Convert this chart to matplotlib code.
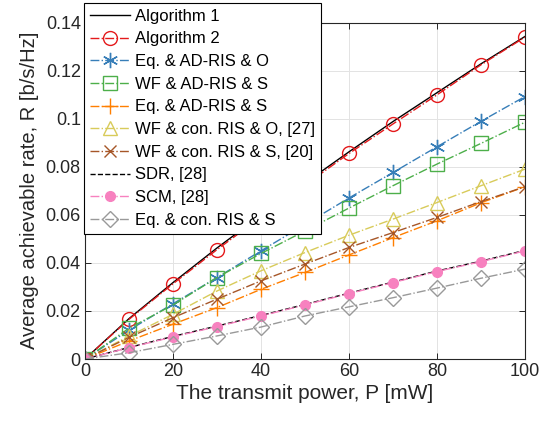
import matplotlib
matplotlib.use("Agg")
import matplotlib.pyplot as plt
import matplotlib.ticker as mticker

plt.rcParams['font.family'] = ['Liberation Sans', 'DejaVu Sans']

# transmit power [mW]
power = [0, 10, 20, 30, 40, 50, 60, 70, 80, 90, 100]

# average achievable rate [b/s/Hz]
alg1 = [0, 0.0168, 0.0318, 0.0462, 0.0598, 0.0732, 0.0862, 0.0988, 0.1108, 0.1228, 0.1342]
alg2 = [0, 0.0165, 0.0313, 0.0455, 0.0591, 0.0724, 0.0855, 0.0978, 0.1099, 0.1224, 0.1339]
eq_ad_o = [0, 0.0120, 0.0230, 0.0339, 0.0450, 0.0560, 0.0670, 0.0776, 0.0883, 0.0989, 0.1092]
wf_ad_s = [0, 0.0128, 0.0225, 0.0339, 0.0439, 0.0533, 0.0628, 0.0721, 0.0811, 0.0897, 0.0985]
eq_ad_s = [0, 0.0075, 0.0145, 0.0214, 0.0290, 0.0360, 0.0433, 0.0505, 0.0575, 0.0650, 0.0717]
wf_con_o = [0, 0.0095, 0.0186, 0.0283, 0.0367, 0.0443, 0.0515, 0.0582, 0.0651, 0.0721, 0.0790]
wf_con_s = [0, 0.0090, 0.0172, 0.0249, 0.0325, 0.0395, 0.0464, 0.0526, 0.0589, 0.0655, 0.0717]
sdr = [0, 0.0048, 0.0094, 0.0137, 0.0181, 0.0227, 0.0274, 0.0320, 0.0366, 0.0407, 0.0452]
scm = [0, 0.0047, 0.0092, 0.0135, 0.0179, 0.0225, 0.0272, 0.0318, 0.0364, 0.0405, 0.0450]
eq_con_s = [0, 0.0026, 0.0061, 0.0096, 0.0133, 0.0179, 0.0217, 0.0255, 0.0295, 0.0336, 0.0374]

labels = ["Algorithm 1", "Algorithm 2", "Eq. & AD-RIS & O", "WF & AD-RIS & S",
          "Eq. & AD-RIS & S", "WF & con. RIS & O, [27]", "WF & con. RIS & S, [20]",
          "SDR, [28]", "SCM, [28]", "Eq. & con. RIS & S"]

txt = '#262626'
fig = plt.figure(figsize=(5.51, 4.23), dpi=100)
ax = fig.add_axes([0.1543, 0.1513, 0.7985, 0.7955])

ax.plot(power, alg1, '-', color='black', lw=1.0, label=labels[0])
ax.plot(power, alg2, '-.', color='#e41a1c', lw=1.0, marker='o', ms=10,
        mfc='none', mec='#e41a1c', label=labels[1])
ax.plot(power, eq_ad_o, '-.', color='#377eb8', lw=1.0, marker=(6, 2, 0), ms=11,
        mew=1.0, label=labels[2])
ax.plot(power, wf_ad_s, '-.', color='#4daf4a', lw=1.0, marker='s', ms=9.5,
        mfc='none', label=labels[3])
ax.plot(power, eq_ad_s, '-.', color='#ff7f00', lw=1.0, marker='+', ms=11,
        mew=1.0, label=labels[4])
ax.plot(power, wf_con_o, '-.', color='#d8cb5a', lw=1.0, marker='^', ms=10,
        mfc='none', label=labels[5])
ax.plot(power, wf_con_s, '-.', color='#a65628', lw=1.0, marker='x', ms=8.5,
        mew=1.0, label=labels[6])
ax.plot(power, sdr, '--', color='black', lw=1.0, label=labels[7])
ax.plot(power, scm, '-.', color='#f781bf', lw=1.0, marker='o', ms=7,
        mfc='#f781bf', mec='#f781bf', label=labels[8])
ax.plot(power, eq_con_s, '-.', color='#999999', lw=1.0, marker='D', ms=8,
        mfc='none', label=labels[9])

ax.set_xlim(0, 100)
ax.set_ylim(0, 0.14)
ax.set_xticks(range(0, 101, 20))
ax.set_yticks([0, 0.02, 0.04, 0.06, 0.08, 0.1, 0.12, 0.14])
ax.yaxis.set_major_formatter(mticker.FuncFormatter(lambda v, p: f"{v:g}"))
ax.grid(True, color='#e3e3e3', lw=0.7)
ax.set_axisbelow(True)
ax.tick_params(direction='in', top=True, right=True, labelsize=13, colors=txt,
               length=4, width=0.7, pad=3)
for s in ax.spines.values():
    s.set_color(txt)
    s.set_linewidth(0.8)

ax.set_xlabel("The transmit power, P [mW]", fontsize=15, color=txt, labelpad=3)
ax.set_ylabel("Average achievable rate, R [b/s/Hz]", fontsize=14.5, color=txt, labelpad=5)

leg = ax.legend(loc='upper left', bbox_to_anchor=(0.1525, 0.993),
                bbox_transform=fig.transFigure, borderaxespad=0, fontsize=12,
                fancybox=False, framealpha=1, edgecolor='black', handlelength=2.4,
                labelspacing=0.46, borderpad=0.35, handletextpad=0.3, numpoints=1)
leg.get_frame().set_linewidth(0.8)
for t in leg.get_texts():
    t.set_color('black')

fig.savefig("out.png", dpi=100)
